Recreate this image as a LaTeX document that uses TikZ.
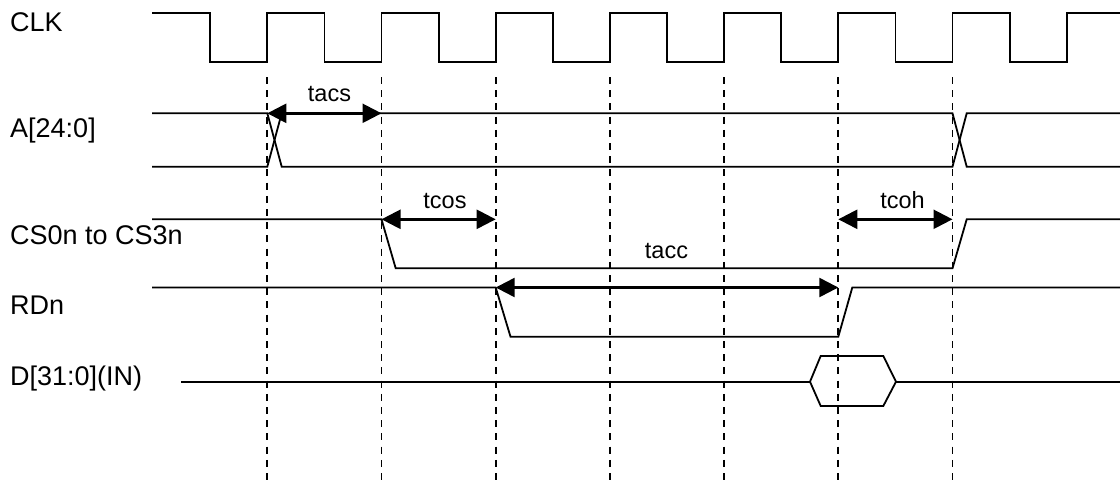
\documentclass[tikz,border=0pt]{standalone}
\usepackage{fontspec}
\setmainfont{Liberation Sans}
\usetikzlibrary{arrows.meta}
\begin{document}
\begin{tikzpicture}[x=1pt,y=-1pt,
  sig/.style={line width=1.8pt, line join=miter},
  guide/.style={line width=1.8pt, dash pattern=on 7pt off 6.2pt},
  dimarrow/.style={line width=2.4pt, {Triangle[length=19pt,width=19pt]}-{Triangle[length=19pt,width=19pt]}},
  lbl/.style={font=\fontsize{27}{31}\selectfont, anchor=base west, inner sep=0pt},
  tlbl/.style={font=\fontsize{23.5}{27}\selectfont, anchor=base, inner sep=0pt}]
\useasboundingbox (0,0) rectangle (1120,493);

% signal names
\node[lbl] (nclk) at (10,31.7) {CLK};
\node[lbl] (na) at (10,137.7) {A[24:0]};
\node[lbl] (ncs) at (10,244.3) {CS0n to CS3n};
\node[lbl] (nrd) at (10,314.3) {RDn};
\node[lbl] (nd) at (10,385.7) {D[31:0](IN)};

% clock
\draw[sig] (152,13) foreach \k in {0,...,7} {
  -- ({210.2+114.2*\k},13) -- ({210.2+114.2*\k},62)
  -- ({267.3+114.2*\k},62) -- ({267.3+114.2*\k},13) } -- (1120,13);

% guide lines at rising edges
\foreach \k in {0,...,6} {
  \coordinate (gt\k) at ({267.3+114.2*\k},77);
  \coordinate (gb\k) at ({267.3+114.2*\k},480);
  \draw[guide] (gt\k) -- (gb\k);
}

% address bus
\draw[sig] (152,113.3) -- (267.3,113.3) -- (281.7,166.7) -- (952.5,166.7) -- (966.7,113.3) -- (1120,113.3);
\draw[sig] (152,166.7) -- (267.3,166.7) -- (281.7,113.3) -- (952.5,113.3) -- (966.7,166.7) -- (1120,166.7);

% chip select
\draw[sig] (152,219.3) -- (381.5,219.3) -- (395.7,268.3) -- (952.5,268.3) -- (966.7,219.3) -- (1120,219.3);

% read strobe
\draw[sig] (152,287.5) -- (495.7,287.5) -- (510.5,336.7) -- (838.3,336.7) -- (852.3,287.5) -- (1120,287.5);

% data in
\draw[sig] (181,381.7) -- (810,381.7);
\draw[sig] (810,381.7) -- (820.7,356) -- (883.3,356) -- (896,381.7) -- (883.3,406) -- (820.7,406) -- cycle;
\draw[sig] (896,381.7) -- (1120,381.7);

% timing arrows
\coordinate (acs1) at (267.3,113.3);
\coordinate (acs2) at (381.5,113.3);
\coordinate (cos1) at (381.5,219.3);
\coordinate (cos2) at (495.7,219.3);
\coordinate (coh1) at (838.3,219.3);
\coordinate (coh2) at (952.5,219.3);
\coordinate (acc1) at (495.7,287.5);
\coordinate (acc2) at (838.3,287.5);
\draw[dimarrow] (acs1) -- (acs2);
\draw[dimarrow] (cos1) -- (cos2);
\draw[dimarrow] (coh1) -- (coh2);
\draw[dimarrow] (acc1) -- (acc2);
\node[tlbl] (lacs) at (329.5,101) {tacs};
\node[tlbl] (lcos) at (445,208.3) {tcos};
\node[tlbl] (lcoh) at (902.5,208.3) {tcoh};
\node[tlbl] (lacc) at (666.5,258.3) {tacc};
\end{tikzpicture}
\end{document}
